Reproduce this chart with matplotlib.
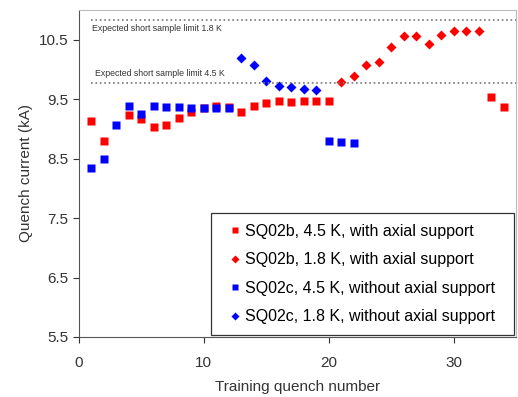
import numpy as np
import matplotlib
matplotlib.use('Agg')
import matplotlib.pyplot as plt
from matplotlib.patches import Rectangle

plt.rcParams['font.family'] = ['Liberation Sans', 'DejaVu Sans']

# SQ02b, 4.5 K, with axial support
b45_x = [1, 2, 4, 5, 6, 7, 8, 9, 10, 11, 12, 13, 14, 15, 16, 17, 18, 19, 20, 33, 34]
b45_y = [9.14, 8.79, 9.23, 9.17, 9.03, 9.06, 9.19, 9.28, 9.35, 9.39, 9.37, 9.29,
         9.38, 9.43, 9.47, 9.46, 9.47, 9.47, 9.47, 9.54, 9.37]
# SQ02b, 1.8 K, with axial support
b18_x = [21, 22, 23, 24, 25, 26, 27, 28, 29, 30, 31, 32]
b18_y = [9.79, 9.89, 10.08, 10.13, 10.37, 10.57, 10.57, 10.43, 10.58, 10.64, 10.64, 10.64]
# SQ02c, 4.5 K, without axial support
c45_x = [1, 2, 3, 4, 5, 6, 7, 8, 9, 10, 11, 12, 20, 21, 22]
c45_y = [8.34, 8.49, 9.06, 9.39, 9.25, 9.39, 9.37, 9.37, 9.35, 9.35, 9.35, 9.35,
         8.79, 8.78, 8.77]
# SQ02c, 1.8 K, without axial support
c18_x = [13, 14, 15, 16, 17, 18, 19]
c18_y = [10.19, 10.07, 9.81, 9.73, 9.70, 9.67, 9.65]

limit_18 = 10.84
limit_45 = 9.77

fig = plt.figure(figsize=(5.18, 3.97), dpi=100)
ax = fig.add_axes([79/518, 1 - 337/397, (516 - 79)/518, (337 - 10)/397])

ax.plot(b45_x, b45_y, 's', color='#ff0000', ms=5.5, mec='none', label='SQ02b, 4.5 K, with axial support')
ax.plot(b18_x, b18_y, 'D', color='#ff0000', ms=5, mec='none', label='SQ02b, 1.8 K, with axial support')
ax.plot(c45_x, c45_y, 's', color='#0000ff', ms=5.5, mec='none', label='SQ02c, 4.5 K, without axial support')
ax.plot(c18_x, c18_y, 'D', color='#0000ff', ms=5, mec='none', label='SQ02c, 1.8 K, without axial support')

ax.plot([1, 35], [limit_18, limit_18], ':', color='#777777', lw=1.2)
ax.plot([1, 35], [limit_45, limit_45], ':', color='#777777', lw=1.2)
ax.text(1.05, limit_18 - 0.08, 'Expected short sample limit 1.8 K', fontsize=6.3,
        color='#333333', va='top')
ax.text(1.3, limit_45 + 0.08, 'Expected short sample limit 4.5 K', fontsize=6.3,
        color='#333333', va='bottom')

ax.set_xlim(0, 35)
ax.set_ylim(5.5, 11.0)
ax.set_xticks([0, 10, 20, 30])
ax.set_yticks([5.5, 6.5, 7.5, 8.5, 9.5, 10.5])
ax.set_yticklabels(['5.5', '6.5', '7.5', '8.5', '9.5', '10.5'])
ax.tick_params(direction='out', length=4, labelsize=11, colors='#333333')
ax.tick_params(axis='x', pad=10)
ax.set_xlabel('Training quench number', fontsize=11, color='#333333', labelpad=7)
ax.set_ylabel('Quench current (kA)', fontsize=11, color='#333333')

for s in ['left', 'bottom']:
    ax.spines[s].set_color('#555555')
for s in ['top', 'right']:
    ax.spines[s].set_color('#bbbbbb')

# legend box is wider than the entries, so draw the frame separately
box = Rectangle((0.302, 0.006), 0.693, 0.373, transform=ax.transAxes,
                fill=True, facecolor='white', edgecolor='#333333', lw=0.9, zorder=4)
ax.add_patch(box)
leg = ax.legend(loc='center', bbox_to_anchor=(0.302 + 0.693/2, 0.006 + 0.373/2),
                fontsize=11.5, markerscale=0.8, handlelength=0.6, handletextpad=0.3,
                labelspacing=0.85, frameon=False, borderpad=0)
leg.set_zorder(5)

fig.savefig('out.png', dpi=100)
